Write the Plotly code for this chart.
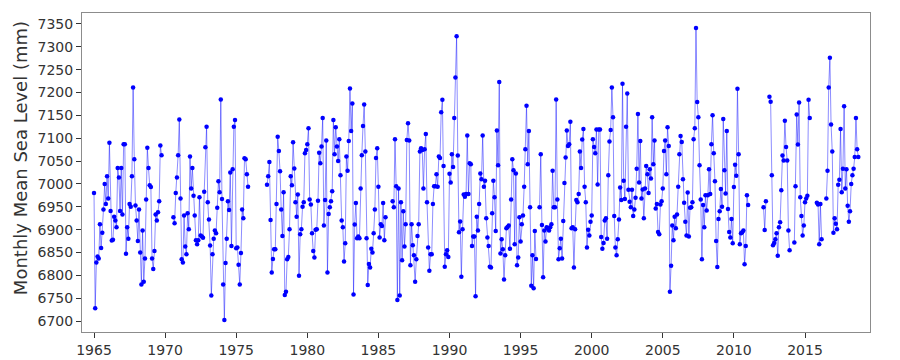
import plotly.graph_objects as go

# Monthly mean sea level (mm). Each segment = consecutive months starting at (year, month)
seg_a_start = (1965, 1)
seg_a = [6980, 6728, 6828, 6841, 6837, 6912, 6860, 6893, 6944, 7000, 6956, 7017, 6968, 7090, 6941, 6876,
         6878, 6928, 6920, 6905, 7035, 7014, 6941, 7035, 6933, 7087, 7087, 6847, 6905, 6880, 6956, 6950,
         7017, 7211, 7054, 6953, 6920, 6875, 6944, 6850, 6780, 6898, 6786, 6837, 6966, 7079, 7035, 6997,
         6993, 6837, 6814, 6853, 6933, 6920, 6938, 6962, 7084, 7063]

seg_b_start = (1970, 8)
seg_b = [6927, 6914, 6980, 7014, 7063, 7141, 6968, 6835, 6828, 6931, 6863, 6846, 6936, 6901, 7060, 6990,
         7035, 6974, 6931, 6877, 6868, 6877, 6971, 6887, 6885, 6882, 6983, 7080, 7125, 6960, 6922, 6865,
         6756, 6846, 6880, 6898, 6892, 6948, 7006,
         6982, 7185, 6967, 6780, 6702, 6827, 6880, 6962, 6943, 7025, 6864, 7032, 7125, 7140, 6859, 6861,
         6823, 6780, 6849, 6944, 6925, 7056, 7054, 7021, 6994]

seg_c_start = (1977, 3)
seg_c = [6998, 7017, 7048, 6921, 6806, 6836, 6857, 6857, 6956, 7103, 7072, 7028, 6944, 6886, 6982, 6757,
         6764,
         6835, 6840, 6901, 7017, 6997, 7091, 7034, 6960, 6928, 6977, 6799, 6890, 6901, 6950, 6960, 7067,
         7074, 7087, 7122, 6966, 6955, 6892, 6853, 6839, 6900, 6901, 6963, 7068, 7045, 7082, 7144, 6909,
         6965, 7095, 6806, 6934, 6949, 6962, 6984, 7140, 7065, 7124, 7082, 7050, 7098, 7019, 6920, 6905,
         6830, 6870, 7060, 7029, 7094, 7209,
         7116, 7176, 6758, 6911, 6958, 6881, 6885, 6881, 6990, 7063, 7127, 7174, 7071, 6881, 6779, 6825,
         6817, 6858, 6850, 6892, 6944, 7057, 7078, 6994, 6883, 6912, 6908, 6958, 6877, 6927]

seg_d_start = (1986, 1)
seg_d = [6962, 6949, 7098, 6995, 6746, 6990, 6756, 6960, 6833, 6940, 6863, 6912, 7096, 7133, 7095, 6822,
         6912, 6866, 6844, 6786,
         6835, 6886, 6912, 7071, 7078, 7074, 6990, 7076, 7109, 6960, 6861, 6810, 6846, 6846, 6956, 6995,
         6995, 7021, 6994, 7060, 7057, 7157, 7184, 7039, 6819, 6846, 6855, 6840, 7022, 7003, 7065, 7037,
         7144, 7233, 7323, 7062, 6894, 6918, 6797, 6901, 6977, 6972, 6978, 7106, 6978, 7045, 7043, 6864,
         6885, 6885, 6754, 6928, 6898, 6956, 7023, 7010, 7106,
         6994, 7007, 6925, 6883, 6864, 6819, 6817, 6936, 7007, 6971, 6897, 7117, 7041, 7223, 6848, 6879,
         6857, 6791, 6844, 6903, 6906, 6909, 6858, 6966, 7054, 7030, 6868, 7023, 6822, 6839, 6927, 6874,
         6912, 6931, 6994, 7076, 7171, 7043, 7116, 6949, 6777, 6844, 6772, 6897, 6836]

seg_e_start = (1996, 5)
seg_e = [6949, 7065, 6910, 6796, 6898, 6874,
         6905, 6903, 6898, 6905, 6912, 7029, 6949, 6949, 7185, 6966, 6835, 6859, 6880, 6837, 6919, 7002,
         7058, 7117, 7083, 7087, 7136, 6903, 6905, 6817, 6901, 6965, 6960, 6978, 7071, 7035, 7097, 7120,
         6994, 6960, 6861, 6900, 6887, 6917, 6931, 7098, 7081, 7067, 7119, 6999, 7119, 7119, 6884, 6858,
         6871, 6920, 6925, 6880, 7019, 7093, 7118,
         7211, 7146, 6930, 6861, 6844, 6879, 6922, 6992, 6965, 7219, 7007, 6967, 7125, 7198, 6987, 6961,
         6949, 6987, 6930, 6944, 6970, 7033, 7153, 7003, 7094, 6968, 6988, 6925, 6990, 7039, 7021, 6980,
         7032, 7012, 7146, 7043, 7095, 6946, 6956, 6895, 6890, 6955, 6962, 6990, 7072, 7095, 7021, 7124,
         7083, 6764, 6821, 6909, 6877,
         6928, 6903, 6933, 6994, 7065, 7105, 7092, 7010, 6959, 6917, 6887, 6981, 6885, 6948, 6949, 6960,
         7098, 7122, 7341, 7179, 7146, 7041, 6966, 6835, 6954, 6905, 6975, 6942, 6975, 7032, 6978, 7087,
         7150, 7067, 7006, 6875, 6818, 6923, 6940, 6989, 6950, 7142, 7030, 6979, 7116, 6945, 6895, 6883,
         6923, 6870, 6993, 7042, 7018, 7208,
         7065, 6868, 6892, 6894, 6898, 6824, 6864, 6975, 6954]

seg_f_start = (2012, 2)
seg_f = [6949, 6899, 6962]

seg_g_start = (2012, 7)
seg_g = [7191, 7180, 7019, 6866, 6871, 6879, 6892, 6843, 6905, 6916, 6986, 7062, 7051, 7138, 7081, 7051,
         6898, 6855]

seg_h_start = (2014, 4)
seg_h = [6872, 6995, 7152, 7086, 7178, 6971, 6930, 6887, 6909, 6960, 6968, 6974, 7184, 7144]

seg_i_start = (2015, 11)
seg_i = [6959, 6955, 6868, 6956, 6879]

seg_j_start = (2016, 7)
seg_j = [6968, 7029, 7211, 7276, 7130, 7071, 6893, 6925, 6913, 6901, 6998, 7009, 7120, 6982, 7033, 7170,
         6990, 7032, 6952, 6917, 6940, 7000, 7019, 7033, 7059, 7144, 7076, 7059]

year_ticks = [1965, 1970, 1975, 1980, 1985, 1990, 1995, 2000, 2005, 2010, 2015]
level_ticks = list(range(6700, 7351, 50))
y_title = "Monthly Mean Sea Level (mm)"

segments = [(seg_a_start, seg_a), (seg_b_start, seg_b), (seg_c_start, seg_c), (seg_d_start, seg_d),
            (seg_e_start, seg_e), (seg_f_start, seg_f), (seg_g_start, seg_g), (seg_h_start, seg_h),
            (seg_i_start, seg_i), (seg_j_start, seg_j)]

xs, ys = [], []
for (yr, mo), vals in segments:
    if xs:
        xs.append(None)
        ys.append(None)
    for k, v in enumerate(vals):
        m = (yr - 1965) * 12 + (mo - 1) + k
        xs.append(1965 + m / 12.0)
        ys.append(v)

fig = go.Figure()
fig.add_trace(go.Scatter(
    x=xs, y=ys, mode="lines+markers",
    line=dict(color="rgba(0,0,255,0.45)", width=1),
    marker=dict(color="#0000ff", size=4.5, line=dict(width=0)),
    connectgaps=False, showlegend=False,
))

axis_common = dict(showgrid=False, zeroline=False, showline=True, mirror=True,
                   linecolor="#8c8c8c", linewidth=1, ticks="outside", ticklen=5,
                   tickcolor="#333333", automargin=False,
                   tickfont=dict(family="DejaVu Sans", size=14, color="#333333"))

# page body has an 8px default margin, so the figure is 8px smaller and margins compensate
fig.update_layout(
    width=892, height=352,
    margin=dict(l=74, r=30, t=5, b=28, autoexpand=False),
    paper_bgcolor="white", plot_bgcolor="white",
    xaxis=dict(range=[1964.156, 2019.571], tickvals=year_ticks,
               ticktext=[str(t) for t in year_ticks], **axis_common),
    yaxis=dict(range=[6676, 7374], tickvals=level_ticks, **axis_common),
    annotations=[dict(text=y_title, textangle=-90, xref="paper", yref="paper",
                      x=-0.0787, y=0.545, xanchor="center", yanchor="middle", showarrow=False,
                      font=dict(family="DejaVu Sans", size=18, color="#333333"))],
)

fig.write_html("out.html")
